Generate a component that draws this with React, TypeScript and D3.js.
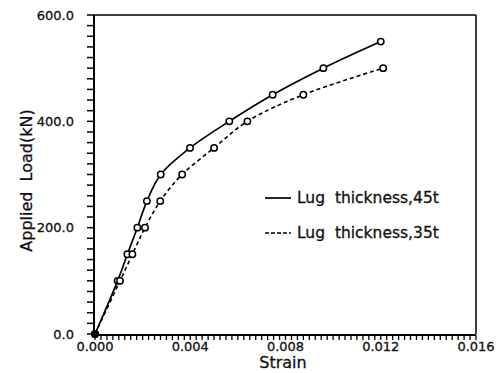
import React from 'react';
import * as d3 from 'd3';

// strain / load readings for the two lug thicknesses
const strain45 = [0, 0.00095, 0.00136, 0.00178, 0.00218, 0.00276, 0.00399, 0.00564, 0.00746, 0.00959, 0.0120];
const load45 = [0, 100, 150, 200, 250, 300, 350, 400, 450, 500, 550];
const strain35 = [0, 0.00105, 0.00157, 0.0021, 0.00274, 0.00366, 0.0050, 0.0064, 0.00875, 0.0121];
const load35 = [0, 100, 150, 200, 250, 300, 350, 400, 450, 500];

const xTicks = [0, 0.004, 0.008, 0.012, 0.016];
const yTicks = [0, 200, 400, 600];
const legendLabels = ['Lug  thickness,45t', 'Lug  thickness,35t'];

const W = 497;
const H = 373;
const font = '"DejaVu Sans", sans-serif';
const pre = { whiteSpace: 'pre' as const };

const App = () => {
  const x = d3.scaleLinear().domain([0, 0.016]).range([95, 476]);
  const y = d3.scaleLinear().domain([0, 600]).range([334, 15]);

  const line = d3.line<[number, number]>()
    .x(d => x(d[0]))
    .y(d => y(d[1]))
    .curve(d3.curveCatmullRom);

  const s45 = strain45.map((s, i) => [s, load45[i]] as [number, number]);
  const s35 = strain35.map((s, i) => [s, load35[i]] as [number, number]);

  const xMinor = d3.range(0, 0.016 + 1e-9, 0.00025);
  const yMinor = d3.range(0, 601, 20);

  const [x0, x1] = x.range();
  const [y0, y1] = y.range();

  return (
    <svg width={W} height={H} style={{ position: 'absolute', left: 0, top: 0, background: '#fff' }}>
      {/* frame */}
      <line x1={x0 - 1} x2={x1} y1={y1} y2={y1} stroke="#000" strokeWidth={1.5} />
      <line x1={x1} x2={x1} y1={y1} y2={y0} stroke="#000" strokeWidth={1.5} />
      <line x1={x0 - 1} x2={x0 - 1} y1={y1} y2={y0 + 1} stroke="#000" strokeWidth={2} />
      <line x1={x0 - 2} x2={x1} y1={y0 + 1} y2={y0 + 1} stroke="#000" strokeWidth={2} />

      {/* minor ticks */}
      {yMinor.map(v => (
        <line key={'ym' + v} x1={x0 - 8} x2={x0 - 1} y1={y(v)} y2={y(v)} stroke="#000" strokeWidth={1.5} />
      ))}
      {xMinor.map((v, i) => (
        <line key={'xm' + i} x1={x(v)} x2={x(v)} y1={y0 + 1} y2={y0 + 6} stroke="#000" strokeWidth={1.3} />
      ))}

      {/* tick labels */}
      {yTicks.map(v => (
        <text key={'yt' + v} x={x0 - 21} y={y(v)} dy="0.35em" textAnchor="end"
          fontFamily={font} fontSize={13} fill="#111" stroke="#111" strokeWidth={0.3}>{d3.format('.1f')(v)}</text>
      ))}
      {xTicks.map(v => (
        <text key={'xt' + v} x={x(v)} y={y0 + 17} textAnchor="middle"
          fontFamily={font} fontSize={13} fill="#111" stroke="#111" strokeWidth={0.3}>{d3.format('.3f')(v)}</text>
      ))}

      {/* axis titles */}
      <text x={283} y={368} textAnchor="middle" fontFamily={font} fontSize={16} fill="#111"
        stroke="#111" strokeWidth={0.3}>Strain</text>
      <text transform={`translate(32,${(y0 + y1) / 2 + 6}) rotate(-90)`} textAnchor="middle"
        fontFamily={font} fontSize={16} fill="#111" stroke="#111" strokeWidth={0.3} style={pre}>Applied  Load(kN)</text>

      {/* curves */}
      <path d={line(s45) ?? ''} fill="none" stroke="#000" strokeWidth={1.7} />
      <path d={line(s35) ?? ''} fill="none" stroke="#000" strokeWidth={1.6} strokeDasharray="4,3" />

      {s45.map((d, i) => (
        <circle key={'a' + i} cx={x(d[0])} cy={y(d[1])} r={3.2} fill="#fff" stroke="#000" strokeWidth={1.5} />
      ))}
      {s35.map((d, i) => (
        <circle key={'b' + i} cx={x(d[0])} cy={y(d[1])} r={3.2} fill="#fff" stroke="#000" strokeWidth={1.5} />
      ))}
      <circle cx={x(0)} cy={y(0)} r={3} fill="#000" />

      {/* legend */}
      {legendLabels.map((lbl, i) => (
        <g key={lbl} transform={`translate(265,${198 + i * 35})`}>
          <line x1={0} x2={26} y1={0} y2={0} stroke="#000" strokeWidth={1.7}
            strokeDasharray={i === 1 ? '4,2' : undefined} />
          <text x={32} y={5} fontFamily={font} fontSize={15.5} fill="#111" stroke="#111" strokeWidth={0.3}
            style={pre}>{lbl}</text>
        </g>
      ))}
    </svg>
  );
};

export default App;
